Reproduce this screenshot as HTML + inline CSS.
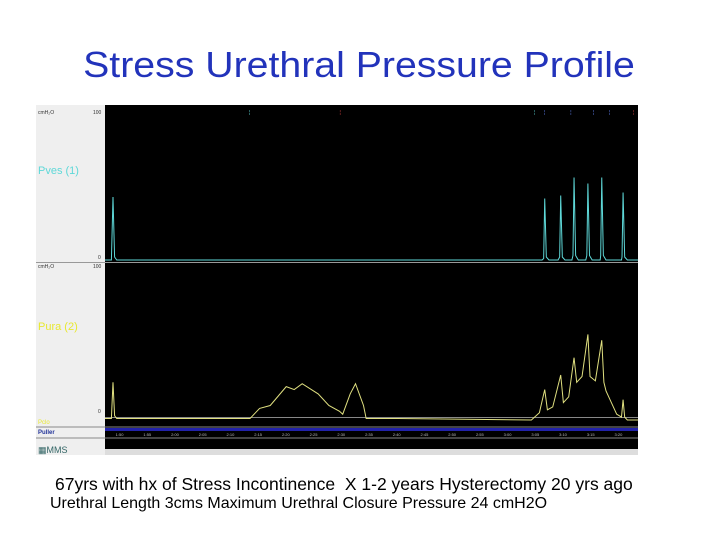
<!DOCTYPE html>
<html><head><meta charset="utf-8"><style>
body{margin:0;width:720px;height:540px;background:#fff;overflow:hidden;font-family:"Liberation Sans",sans-serif;position:relative}
#title{position:absolute;left:0;width:718px;top:44px;text-align:center;font-size:36px;color:#2233bb;font-family:"Liberation Sans",sans-serif;transform:scaleX(1.09);transform-origin:359px 0}
.cap{position:absolute;color:#000;white-space:nowrap}
</style></head><body>
<div id="title">Stress Urethral Pressure Profile</div>
<svg id="chart" width="720" height="540" style="position:absolute;left:0;top:0">
<rect x="36" y="105" width="69" height="350" fill="#efefef"/>
<rect x="105" y="105" width="533" height="350" fill="#000"/>
<line x1="36" y1="262.5" x2="638" y2="262.5" stroke="#999"/>
<text x="38" y="114" font-size="5" fill="#333">cmH₂O</text><text x="93" y="114" font-size="5" fill="#333">100</text>
<text x="38" y="268" font-size="5" fill="#333">cmH₂O</text><text x="93" y="268" font-size="5" fill="#333">100</text>
<text x="98" y="259" font-size="5" fill="#333">0</text><text x="98" y="413" font-size="5" fill="#333">0</text>
<text x="38" y="174" font-size="11" fill="#5ed8d8">Pves (1)</text>
<text x="38" y="330" font-size="11" fill="#e8e830">Pura (2)</text>
<text x="38" y="424" font-size="6" fill="#e8e830">Pclo</text>
<text x="38" y="434" font-size="6" fill="#223399" font-weight="bold">Puller</text>
<text x="38" y="453" font-size="9" fill="#336666">▦MMS</text>
<line x1="36" y1="427" x2="638" y2="427" stroke="#888"/>
<line x1="36" y1="438" x2="638" y2="438" stroke="#888"/>
<line x1="105" y1="429.5" x2="638" y2="429.5" stroke="#2222aa" stroke-width="3"/>
<line x1="105" y1="417.5" x2="638" y2="417.5" stroke="#888"/>
<rect x="105" y="449" width="533" height="6" fill="#ddd"/>
<g id="ticks" font-size="4" fill="#bbb"></g>
<g id="markers" font-size="5"></g>
<polyline id="pves" fill="none" stroke="#5ed8d8" stroke-width="1"/>
<polyline id="pura" fill="none" stroke="#e0e080" stroke-width="1"/>
</svg>
<div class="cap" style="left:55px;top:474px;font-size:17.5px">67yrs with hx of Stress Incontinence&nbsp; X 1-2 years Hysterectomy 20 yrs ago</div>
<div class="cap" style="left:50px;top:495px;font-size:16px">Urethral Length 3cms Maximum Urethral Closure Pressure 24 cmH2O</div>
<script>
// time axis: 0..100 maps to x 105..638; pressure 0..100
const pvesTimes=[0,1.2,1.5,1.8,2.2,82,82.3,82.5,82.8,83.3,85,85.3,85.5,85.8,86.3,87.6,87.8,88,88.3,88.8,90.2,90.4,90.6,90.9,91.4,92.9,93,93.2,93.5,94,96.9,97,97.2,97.5,98,100];
const pvesVals=[0,0,42,2,0,0,1,41,2,0,0,2,43,2,0,0,3,55,3,0,0,3,51,3,0,0,3,55,3,0,0,2,45,2,0,0];
const puraTimes=[0,1.2,1.5,1.8,2.2,27.2,29,31,34,35.5,37,40,42,44,44.6,46,47,48.5,49,55,80,81.5,82.5,83,84,85.5,86,87,88,88.5,89.5,90.6,91,92,93.2,93.6,94,95,96,96.9,97.2,97.5,98,100];
const puraVals=[1,1,26,3,1,1,8,10,23,21,25,18,10,6,4,18,25,10,1,1,0,5,21,7,9,31,12,16,43,26,30,59,30,27,55,26,20,12,4,2,14,2,0,0];
const x0=105,x1=638;
function xs(t){return x0+(x1-x0)*t/100;}
function yV(v){return 260-v*(260-110)/100;}
function yU(v){return 420-v*(420-275)/100;}
document.getElementById('pves').setAttribute('points',pvesTimes.map((t,i)=>xs(t)+','+yV(pvesVals[i])).join(' '));
document.getElementById('pura').setAttribute('points',puraTimes.map((t,i)=>xs(t)+','+yU(puraVals[i])).join(' '));
const tickLabels=['1:50','1:55','2:00','2:05','2:10','2:15','2:20','2:25','2:30','2:35','2:40','2:45','2:50','2:55','3:00','3:05','3:10','3:15','3:20'];
const tk=document.getElementById('ticks');
tickLabels.forEach((l,i)=>{const t=document.createElementNS('http://www.w3.org/2000/svg','text');


t.setAttribute('x',xs(2+i*5.2));t.setAttribute('y',436);t.textContent=l;tk.appendChild(t);});
const markerTimes=[27,44,80.5,82.3,87.3,91.5,94.5,99];
const markerColors=['#5ed8d8','#dd4444','#5ed8d8','#6688ff','#6688ff','#6688ff','#6688ff','#dd4444'];
const mk=document.getElementById('markers');
markerTimes.forEach((m,i)=>{const t=document.createElementNS('http://www.w3.org/2000/svg','text');


t.setAttribute('x',xs(m));t.setAttribute('y',114);t.setAttribute('fill',markerColors[i]);t.textContent='¦';mk.appendChild(t);});
</script>
</body></html>
